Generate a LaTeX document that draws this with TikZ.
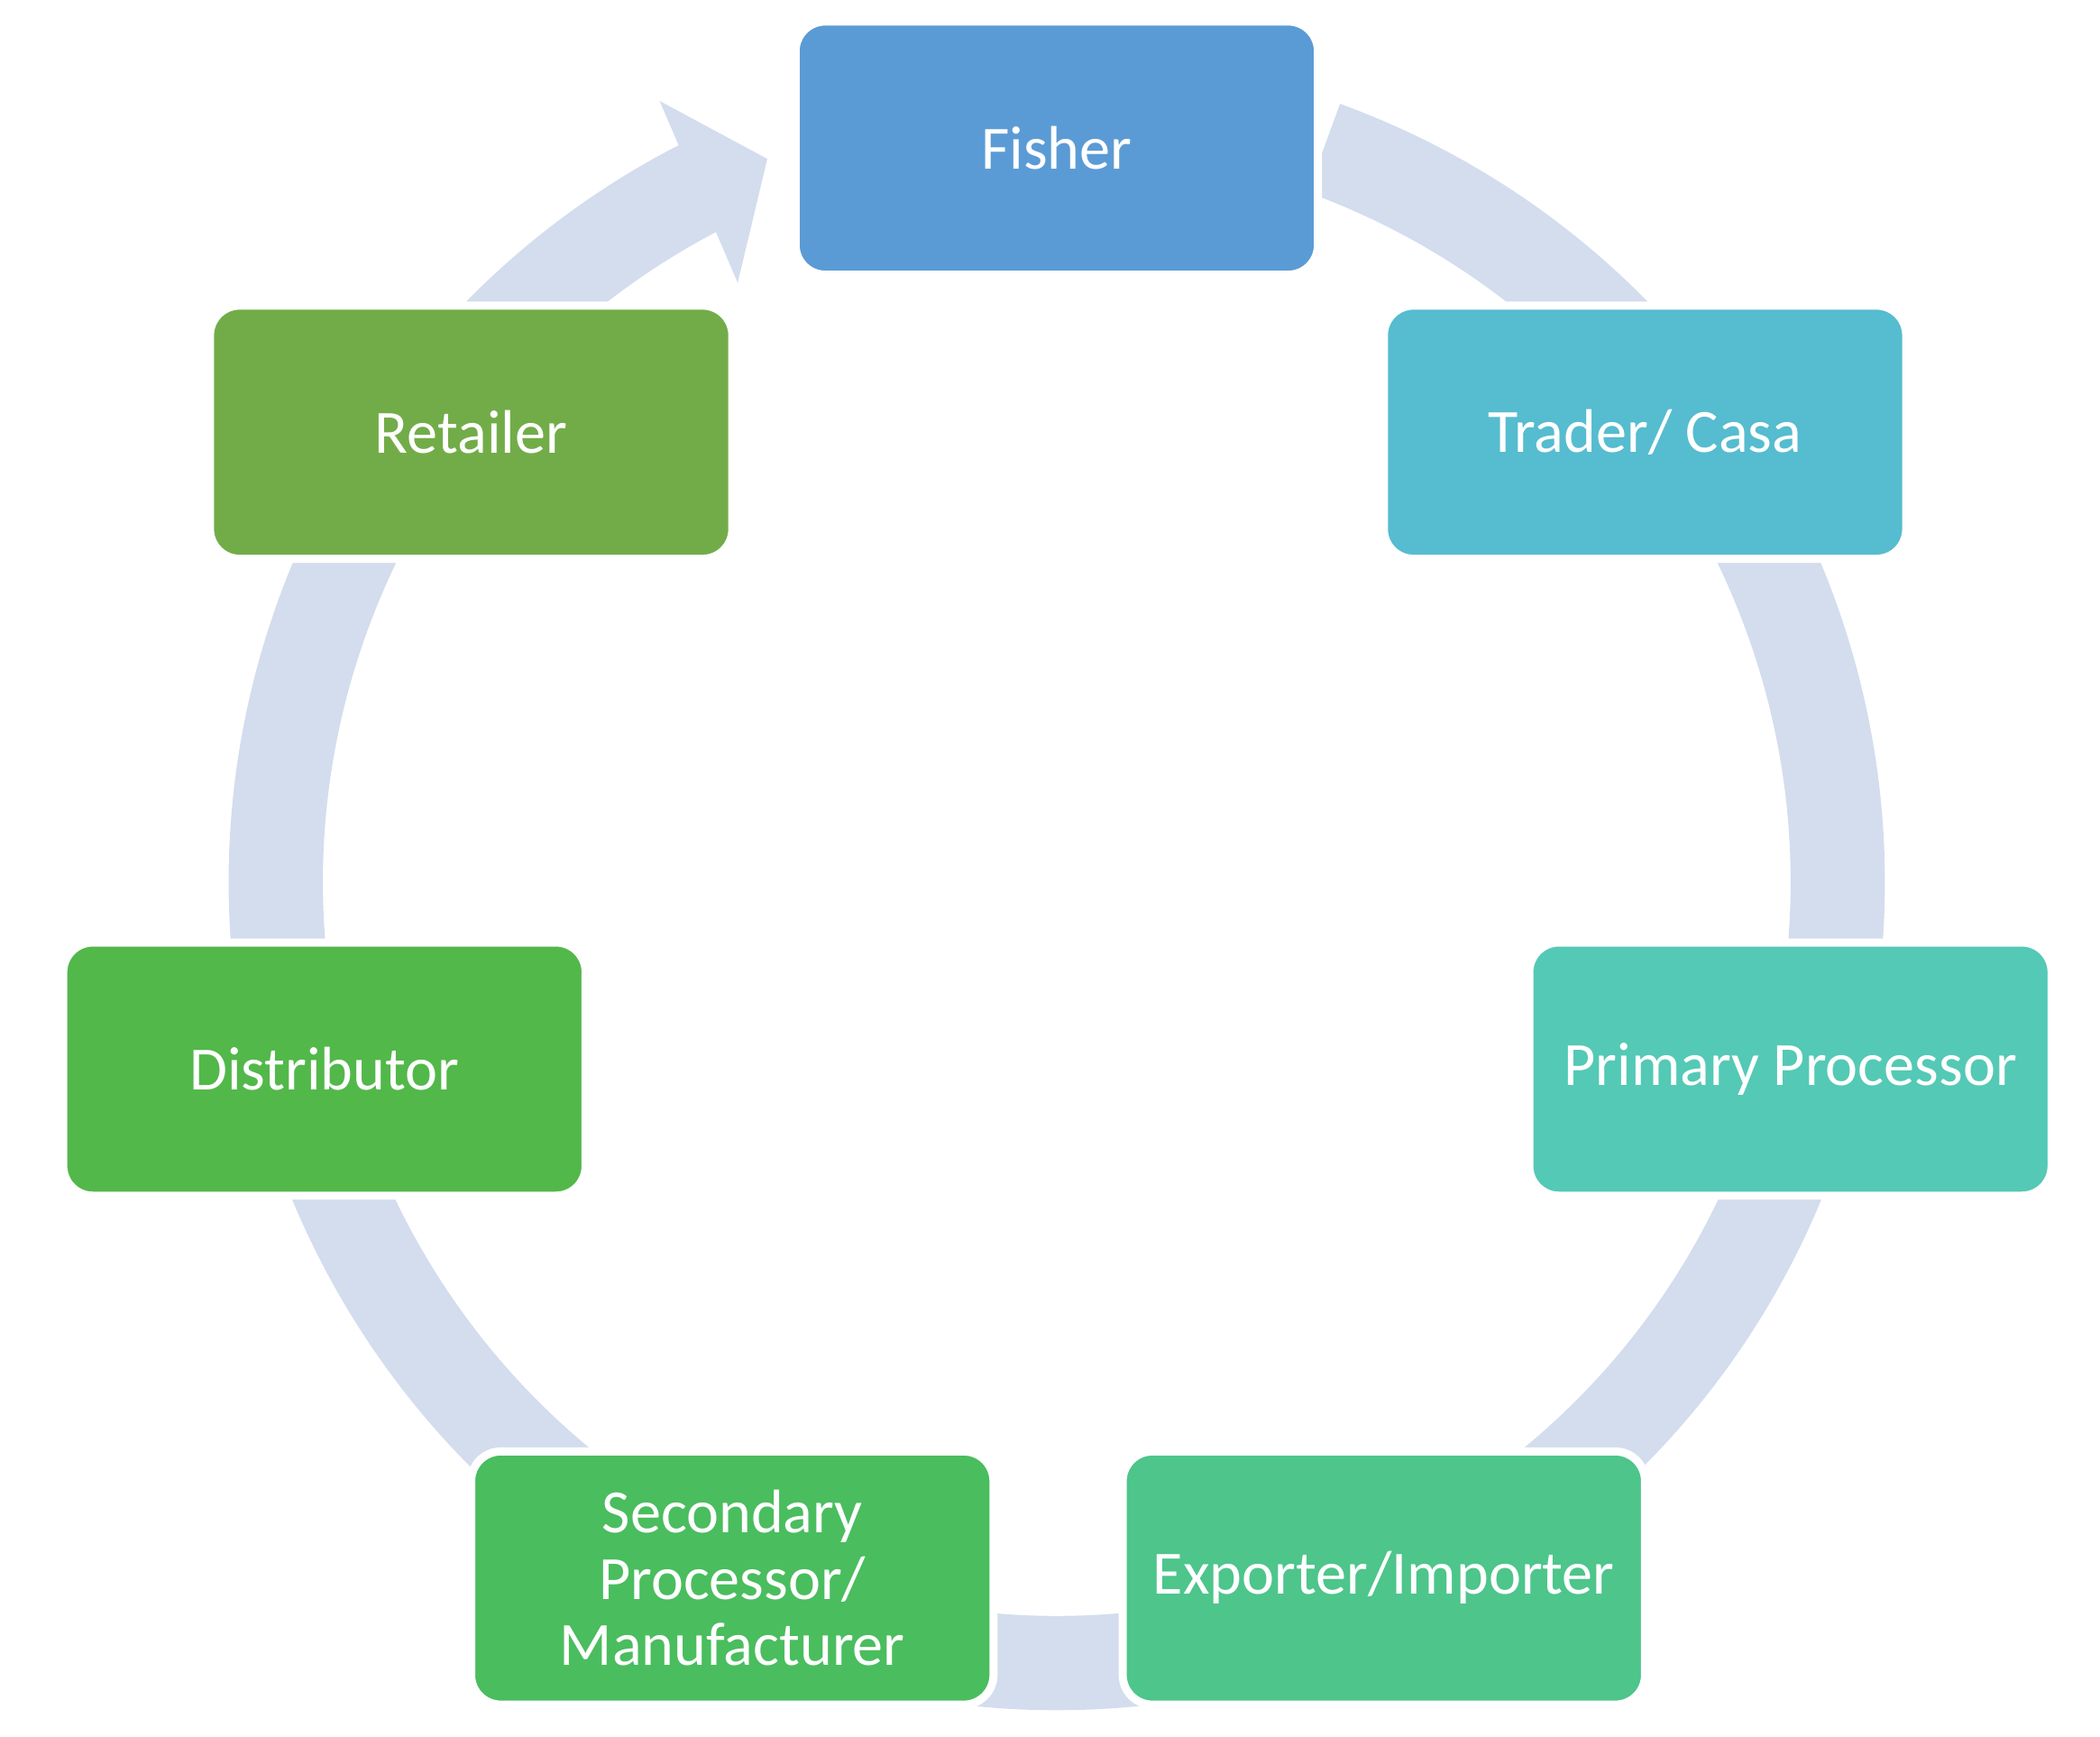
\documentclass[tikz,border=0pt]{standalone}
\usepackage{fontspec}
\setmainfont{Carlito}
\usetikzlibrary{positioning}
\definecolor{ringc}{HTML}{D3DDEE}
\definecolor{cfish}{HTML}{5B9BD5}
\definecolor{ctrad}{HTML}{56BCCF}
\definecolor{cprim}{HTML}{54C9B5}
\definecolor{cexpo}{HTML}{4DC58B}
\definecolor{cseco}{HTML}{4ABD5E}
\definecolor{cdist}{HTML}{52B84A}
\definecolor{cretl}{HTML}{72AC48}
\begin{document}
\begin{tikzpicture}[font=\fontsize{13}{15}\selectfont]
        % Setup the style for the boxes
        \tikzset{box style/.style={rectangle, rounded corners=0.22cm,
                                   minimum width=3.88cm, minimum height=1.88cm,
                                   draw=white, line width=0.6mm,
                                   text=white, align=center}}
        \useasboundingbox (0,0) rectangle (15.6,12.9);

        % Draw the ring and its arrowhead
        \coordinate (centre) at (7.85,6.35);
        \draw[ringc, line width=0.7cm] ([shift={(70:5.8)}]centre) arc[start angle=70, end angle=-243, radius=5.8];
        \fill[ringc] (4.90,12.15) -- (5.70,11.72) -- (5.48,10.80) -- cycle;

        % Draw the boxes
        \node[box style, fill=cfish] at (7.85, 11.80) (fisher)    {Fisher};
        \node[box style, fill=ctrad] at (12.22, 9.69) (trader)    {Trader/ Casa};
        \node[box style, fill=cprim] at (13.30, 4.96) (primary)   {Primary Processor};
        \node[box style, fill=cexpo] at (10.28, 1.18) (exporter)  {Exporter/Importer};
        \node[box style, fill=cseco] at (5.44, 1.18)  (secondary) {Secondary\\[-1pt]Processor/\\[-1pt]Manufacturer};
        \node[box style, fill=cdist] at (2.41, 4.96)  (distrib)   {Distributor};
        \node[box style, fill=cretl] at (3.50, 9.69)  (retailer)  {Retailer};
\end{tikzpicture}
\end{document}
